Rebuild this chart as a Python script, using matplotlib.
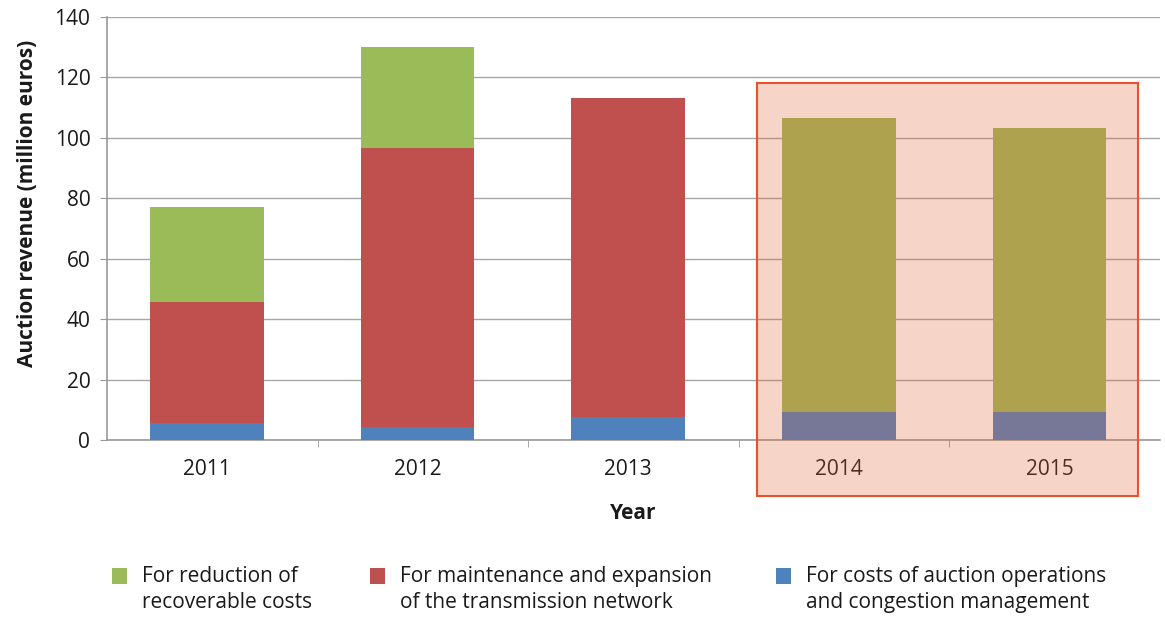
import matplotlib
matplotlib.use("Agg")
import matplotlib.pyplot as plt
from matplotlib.patches import Rectangle
import numpy as np

plt.rcParams['font.family'] = ['Open Sans', 'DejaVu Sans']

years = ['2011', '2012', '2013', '2014', '2015']
operations = [5.6, 4.3, 7.6, 9.4, 9.3]
maintenance = [40.1, 92.4, 105.6, 0, 0]
reduction = [31.4, 33.3, 0, 97.1, 93.9]

labels = ['For reduction of\nrecoverable costs',
          'For maintenance and expansion\nof the transmission network',
          'For costs of auction operations\nand congestion management']
colors = ['#9bbb59', '#c0504d', '#4f81bd']
txt = '#1a1a1a'

fig = plt.figure(figsize=(11.65, 6.19), dpi=100)
ax = fig.add_axes([107 / 1165, 1 - 440 / 619, 1053 / 1165, 423 / 619])

x = np.arange(len(years))
w = 0.54
ax.bar(x, operations, w, color=colors[2], zorder=3)
ax.bar(x, maintenance, w, bottom=operations, color=colors[1], zorder=3)
bottom2 = np.array(operations) + np.array(maintenance)
ax.bar(x, reduction, w, bottom=bottom2, color=colors[0], zorder=3)

ax.set_ylim(0, 140)
ax.set_yticks(range(0, 141, 20))
ax.set_xlim(-0.475, 4.525)
ax.set_xticks(x)
ax.set_xticklabels(years)
ax.set_xticks(np.arange(4) + 0.525, minor=True)
ax.tick_params(axis='x', which='major', length=0, pad=14, labelsize=15, colors=txt)
ax.tick_params(axis='x', which='minor', length=5, color='#999999', direction='out')
ax.tick_params(axis='y', length=5, color='#999999', labelsize=15, labelcolor=txt, pad=7)
ax.grid(axis='y', color='#a6a6a6', lw=1, zorder=1)
for s in ['top', 'right']:
    ax.spines[s].set_visible(False)
for s in ['left', 'bottom']:
    ax.spines[s].set_color('#999999')
    ax.spines[s].set_linewidth(1.2)

ax.set_ylabel('Auction revenue (million euros)', fontsize=15, fontweight='bold', color=txt)
ax.yaxis.set_label_coords(-0.066, 0.56)
ax.set_xlabel('Year', fontsize=15, fontweight='bold', color=txt, labelpad=16)

# highlight box over 2014-2015
hl = Rectangle((2.612, -18.5), 1.809, 136.7, facecolor=(229 / 255, 96 / 255, 52 / 255, 0.27),
               edgecolor='#e8532a', lw=1.5, clip_on=False, zorder=10)
ax.add_patch(hl)

# legend
leg_x = [112, 370, 776]
for lx, lab, c in zip(leg_x, labels, colors):
    fig.add_artist(Rectangle((lx / 1165, 1 - 584 / 619), 15 / 1165, 16 / 619,
                             facecolor=c, edgecolor='none', transform=fig.transFigure))
    fig.text((lx + 30) / 1165, 1 - 566 / 619, lab, fontsize=15, color=txt,
             va='top', ha='left', linespacing=1.33)

fig.savefig('out.png', dpi=100)
